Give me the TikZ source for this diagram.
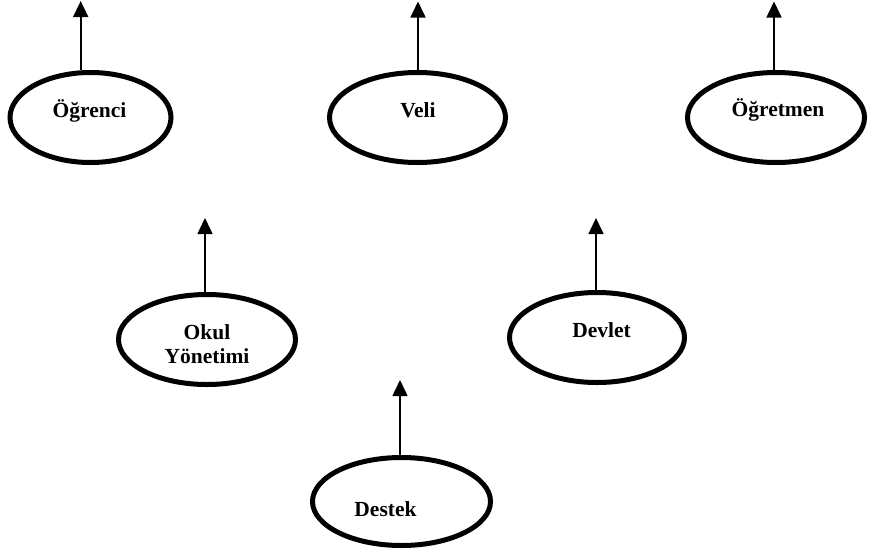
\documentclass[tikz,border=0pt]{standalone}
\usepackage{fontspec}
\setmainfont{Liberation Serif}
\usetikzlibrary{arrows.meta,shapes.geometric}
\begin{document}
\begin{tikzpicture}[x=1pt,y=-1pt,
  oval/.style={draw=black, line width=5pt, ellipse, inner sep=0pt,
               minimum width=176pt, minimum height=90pt},
  lbl/.style={font=\fontsize{21.5}{24}\selectfont\bfseries, align=center, inner sep=0pt},
  arr/.style={line width=1.6pt, -{Triangle[length=16pt,width=15pt]}}]
\useasboundingbox (0,0) rectangle (869,555);

% ellipses
\node[oval, minimum width=161pt] (ogr) at (90.5,117.5) {};
\node[oval] (veli) at (417.5,117.5) {};
\node[oval, minimum width=177pt] (ogrt) at (776,117.5) {};
\node[oval, minimum width=177pt] (okul) at (207,339.5) {};
\node[oval, minimum width=175pt] (devlet) at (597,337.5) {};
\node[oval, minimum width=178pt, minimum height=88pt] (destek) at (401.5,501.5) {};

% labels
\node[lbl, anchor=base] (ogrL) at (89.5,117) {Öğrenci};
\node[lbl, anchor=base] (veliL) at (418,117) {Veli};
\node[lbl, anchor=base] (ogrtL) at (778,116) {Öğretmen};
\node[lbl, anchor=center] (okulL) at (207,343.7) {Okul\\Yönetimi};
\node[lbl, anchor=base] (devletL) at (601.5,337) {Devlet};
\node[lbl, anchor=base] (destekL) at (385.5,516) {Destek};

% arrow tips
\coordinate (t1) at (80.7,1);
\coordinate (t2) at (418,1.5);
\coordinate (t3) at (774,1.5);
\coordinate (t4) at (205,218);
\coordinate (t5) at (596,218);
\coordinate (t6) at (400,380);

% arrows
\draw[arr] (ogr.north -| t1) -- (t1);
\draw[arr] (veli.north -| t2) -- (t2);
\draw[arr] (ogrt.north -| t3) -- (t3);
\draw[arr] (okul.north -| t4) -- (t4);
\draw[arr] (devlet.north -| t5) -- (t5);
\draw[arr] (destek.north -| t6) -- (t6);
\end{tikzpicture}
\end{document}
